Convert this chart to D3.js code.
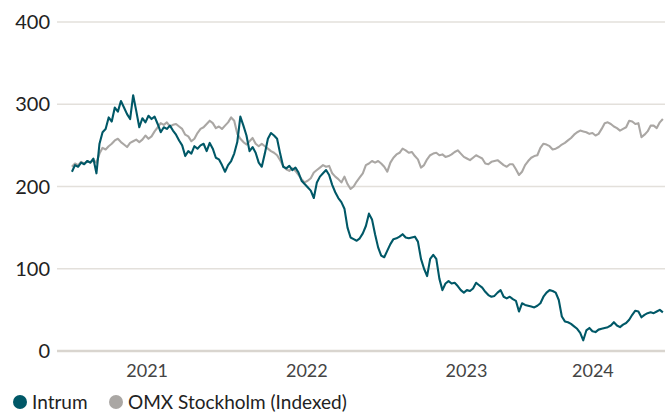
<!DOCTYPE html>
<html>
<head>
<meta charset="utf-8">
<script src="https://cdn.jsdelivr.net/npm/d3@7"></script>
<style>
body { margin: 0; background: #fff; }
svg { display: block; font-family: Lato, "Open Sans", sans-serif; }
</style>
</head>
<body>
<div id="chart"></div>
<script>
// weekly closes, indexed (first week of 2021 onwards)
var startDate = '2021-01-04';

var intrum = [
	218, 226, 224, 229, 227, 231, 229, 234, 216, 252,
	266, 270, 284, 279, 296, 291, 304, 296, 288, 282,
	311, 292, 272, 283, 278, 286, 282, 285, 276, 266,
	272, 270, 274, 268, 263, 256, 250, 237, 243, 240,
	249, 246, 250, 252, 243, 253, 246, 235, 233, 226,
	218, 226, 231, 240, 254, 285, 274, 262, 243, 248,
	241, 229, 224, 240, 258, 265, 262, 258, 240, 224,
	222, 225, 220, 223, 217, 207, 203, 199, 195, 186,
	205, 212, 216, 220, 214, 202, 193, 186, 181, 173,
	150, 138, 136, 134, 137, 143, 152, 167, 160, 142,
	126, 116, 114, 122, 130, 136, 137, 139, 142, 138,
	137, 138, 139, 133, 112, 100, 91, 112, 117, 112,
	88, 74, 82, 85, 82, 83, 79, 74, 71, 74,
	73, 76, 83, 80, 77, 72, 68, 66, 67, 71,
	74, 66, 64, 66, 63, 61, 48, 58, 56, 55,
	54, 53, 55, 58, 66, 71, 74, 73, 71, 62,
	42, 36, 35, 33, 30, 27, 22, 13, 25, 28,
	24, 23, 26, 27, 28, 29, 31, 35, 31, 29,
	32, 34, 38, 44, 49, 48, 41, 44, 46, 47,
	46, 48, 50, 47
];

var omx = [
	224, 228, 226, 230, 228, 231, 229, 232, 229, 240,
	247, 245, 249, 252, 256, 258, 254, 251, 248, 253,
	255, 257, 254, 257, 262, 258, 261, 267, 272, 277,
	275, 278, 273, 275, 276, 273, 270, 263, 261, 255,
	258, 265, 270, 272, 276, 280, 277, 271, 273, 270,
	274, 278, 284, 280, 264, 258, 254, 251, 255, 259,
	252, 249, 252, 249, 246, 243, 241, 238, 232, 225,
	221, 219, 222, 219, 214, 209, 205, 207, 210, 217,
	220, 223, 226, 224, 225, 216, 212, 209, 205, 212,
	203, 197, 200, 206, 211, 216, 226, 228, 231, 229,
	231, 228, 224, 218, 229, 235, 239, 241, 246, 244,
	241, 242, 237, 233, 223, 226, 233, 238, 240, 241,
	238, 239, 236, 237, 239, 242, 244, 240, 236, 234,
	232, 235, 238, 236, 234, 228, 227, 230, 231, 232,
	229, 226, 224, 227, 227, 221, 214, 218, 226, 231,
	235, 237, 238, 247, 252, 251, 249, 245, 246, 248,
	251, 253, 256, 259, 263, 266, 268, 267, 266, 264,
	265, 262, 264, 270, 277, 278, 276, 273, 271, 268,
	270, 272, 280, 279, 276, 277, 260, 263, 267, 274,
	274, 271, 278, 282
];

var yTicks = [0, 100, 200, 300, 400];
var yearLabels = ['2021', '2022', '2023', '2024'];
var yearLabelDates = ['2021-07-01', '2022-07-01', '2023-07-01', '2024-04-15'];
var legendNames = ['Intrum', 'OMX Stockholm (Indexed)'];
var colors = ['#005867', '#aaa7a4'];

var width = 665,
	height = 412;
var margin = {left: 57, right: 0, top: 22, bottom: 61};

var parse = d3.timeParse('%Y-%m-%d');
var dates = d3.timeWeek.every(1).range(parse(startDate), parse('2025-01-01')).slice(0, intrum.length);

var x = d3.scaleTime()
	.domain([parse('2021-01-01'), parse('2024-09-20')])
	.range([68, 662]);

var y = d3.scaleLinear()
	.domain([0, 400])
	.range([height - margin.bottom, margin.top]);

var svg = d3.select('#chart')
	.append('svg')
	.attr('width', width)
	.attr('height', height);

// grid
svg.append('g')
	.selectAll('line')
	.data(yTicks)
	.enter()
	.append('line')
	.attr('x1', margin.left)
	.attr('x2', width)
	.attr('y1', d => y(d))
	.attr('y2', d => y(d))
	.attr('stroke', d => d === 0 ? '#d9d5cf' : '#e3e0db')
	.attr('stroke-width', d => d === 0 ? 2.5 : 1.5);

svg.append('g')
	.selectAll('text')
	.data(yTicks)
	.enter()
	.append('text')
	.attr('x', 50)
	.attr('y', d => y(d))
	.attr('dy', '0.35em')
	.attr('text-anchor', 'end')
	.attr('font-size', 20)
	.attr('fill', '#222')
	.text(d => d);

svg.append('g')
	.selectAll('text')
	.data(yearLabels)
	.enter()
	.append('text')
	.attr('x', (d, i) => x(parse(yearLabelDates[i])))
	.attr('y', 377)
	.attr('text-anchor', 'middle')
	.attr('font-size', 18)
	.attr('fill', '#444')
	.text(d => d);

var line = d3.line()
	.x((d, i) => x(dates[i]))
	.y(d => y(d));

// OMX first so Intrum is drawn on top
[omx, intrum].forEach((series, k) => {
	svg.append('path')
		.datum(series)
		.attr('fill', 'none')
		.attr('stroke', k === 0 ? colors[1] : colors[0])
		.attr('stroke-width', 2.1)
		.attr('stroke-linejoin', 'round')
		.attr('d', line);
});

// legend
var legendX = [20, 116];
var legend = svg.append('g')
	.selectAll('g')
	.data(legendNames)
	.enter()
	.append('g')
	.attr('transform', (d, i) => `translate(${legendX[i]}, 402)`);

legend.append('circle')
	.attr('r', 7)
	.attr('fill', (d, i) => colors[i]);

legend.append('text')
	.attr('x', 12)
	.attr('dy', '0.35em')
	.attr('font-size', 19)
	.attr('fill', '#222')
	.text(d => d);
</script>
</body>
</html>
